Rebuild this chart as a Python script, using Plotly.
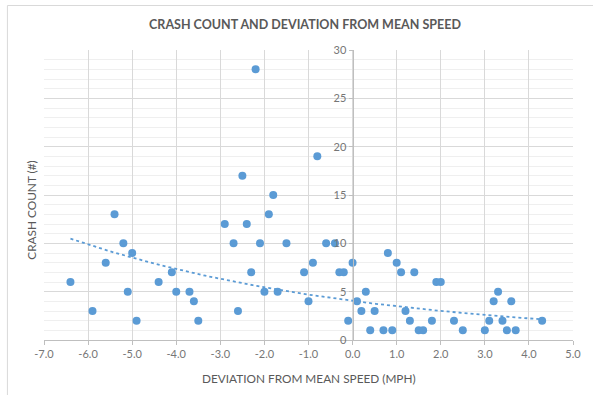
import numpy as np
import plotly.graph_objects as go

deviation = [-6.4, -5.9, -5.4, -5.6, -5.2, -5.1, -5.0, -4.9, -4.4, -4.1, -4.0, -3.7, -3.6, -3.5,
             -2.9, -2.7, -2.6, -2.5, -2.4, -2.3, -2.2, -2.1, -2.0, -1.9, -1.8, -1.7, -1.5,
             -1.1, -1.0, -0.9, -0.8, -0.6, -0.4, -0.3, -0.2, -0.1, 0.0, 0.1, 0.2, 0.3, 0.4, 0.5,
             0.7, 0.8, 0.9, 1.0, 1.1, 1.2, 1.3, 1.4, 1.5, 1.6, 1.8, 1.9, 2.0, 2.3, 2.5,
             3.0, 3.1, 3.2, 3.3, 3.4, 3.5, 3.6, 3.7, 4.3]
crashes = [6, 3, 13, 8, 10, 5, 9, 2, 6, 7, 5, 5, 4, 2,
           12, 10, 3, 17, 12, 7, 28, 10, 5, 13, 15, 5, 10,
           7, 4, 8, 19, 10, 10, 7, 7, 2, 8, 4, 3, 5, 1, 3,
           1, 9, 1, 8, 7, 3, 2, 7, 1, 1, 2, 6, 6, 2, 1,
           1, 2, 4, 5, 2, 1, 4, 1, 2]

x_ticks = [-7, -6, -5, -4, -3, -2, -1, 0, 1, 2, 3, 4, 5]
x_labels = ["-7.0", "-6.0", "-5.0", "-4.0", "-3.0", "-2.0", "-1.0", "0.0", "1.0", "2.0", "3.0", "4.0", "5.0"]
y_ticks = [0, 5, 10, 15, 20, 25, 30]

title = "CRASH COUNT AND DEVIATION FROM MEAN SPEED"
x_title = "DEVIATION FROM MEAN SPEED (MPH)"
y_title = "CRASH COUNT (#)"

# Exponential trendline (least squares on ln y, like Excel)
xd = np.array(deviation, dtype=float)
yd = np.array(crashes, dtype=float)
b, lna = np.polyfit(xd, np.log(yd), 1)
tx = np.linspace(xd.min(), xd.max(), 120)
ty = np.exp(lna) * np.exp(b * tx)

blue = "#5B9BD5"
grey_txt = "#595959"
tick_txt = "#767676"
font = "Lato, 'Open Sans', sans-serif"

fig = go.Figure()
fig.add_trace(go.Scatter(x=tx, y=ty, mode="lines",
                         line=dict(color=blue, width=1.8, dash="dot"),
                         hoverinfo="skip", showlegend=False))
fig.add_trace(go.Scatter(x=deviation, y=crashes, mode="markers",
                         marker=dict(color=blue, size=8, line=dict(width=0)),
                         showlegend=False))

W, H = 593, 395
L, R, T, B = 43.5, 578.5, 50, 340

fig.update_layout(
    width=W, height=H,
    margin=dict(l=L, r=W - R, t=T, b=H - B),
    paper_bgcolor="white", plot_bgcolor="white",
    font=dict(family=font, color=grey_txt, size=11),
    title=dict(text="<b>" + title + "</b>", x=305 / W, xanchor="center",
               y=1 - 25 / H, yanchor="middle", xref="container", yref="container",
               font=dict(size=12.5, color=grey_txt, family=font)),
    xaxis=dict(range=[-7, 5], tickmode="array", tickvals=x_ticks, ticktext=x_labels,
               showgrid=True, gridcolor="#d9d9d9", gridwidth=1,
               zeroline=False, showline=True, linecolor="#bfbfbf", linewidth=1,
               ticks="outside", ticklen=4, tickcolor="#bfbfbf",
               tickfont=dict(size=11, color=tick_txt), fixedrange=True),
    yaxis=dict(range=[0, 30], tickmode="array", tickvals=y_ticks,
               showgrid=True, gridcolor="#d9d9d9", gridwidth=1,
               minor=dict(dtick=1, showgrid=True, gridcolor="#efefef", gridwidth=1),
               zeroline=False, showline=True, linecolor="#bfbfbf", linewidth=1,
               ticks="outside", ticklen=4, tickcolor="#bfbfbf",
               anchor="free", position=7 / 12,
               tickfont=dict(size=11, color=tick_txt), fixedrange=True),
)

# x axis title and y axis title as annotations
fig.add_annotation(text=x_title, xref="paper", yref="paper",
                   x=(311 - L) / (R - L), y=(B - 378) / (B - T),
                   showarrow=False, xanchor="center", yanchor="middle",
                   font=dict(size=11.8, color=grey_txt, family=font))
fig.add_annotation(text=y_title, xref="paper", yref="paper",
                   x=(30 - L) / (R - L), y=(B - 210) / (B - T),
                   showarrow=False, xanchor="center", yanchor="middle", textangle=-90,
                   font=dict(size=11.8, color=grey_txt, family=font))

# chart area border
fig.add_shape(type="rect", xref="paper", yref="paper",
              x0=(6.5 - L) / (R - L), x1=(620 - L) / (R - L),
              y0=(B - 420) / (B - T), y1=(B - 5.5) / (B - T),
              line=dict(color="#d9d9d9", width=1), fillcolor="rgba(0,0,0,0)", layer="below")

fig.write_html("out.html")
